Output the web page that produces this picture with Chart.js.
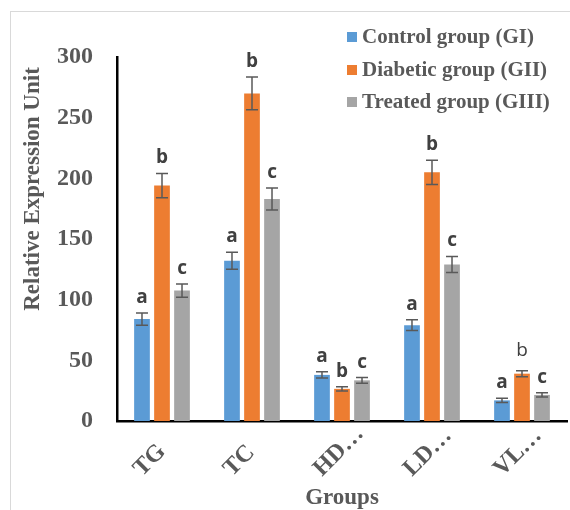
<!DOCTYPE html>
<html>
<head>
    <script src="https://cdn.jsdelivr.net/npm/chart.js@4.4.0/dist/chart.umd.min.js"></script>
    <style>
        body {
            margin: 0;
            background-color: #fff;
        }

        #wrap {
            position: relative;
            width: 570px;
            height: 510px;
        }
    </style>
</head>
<body>
    <div id="wrap"><canvas id="myChart"></canvas></div>
    <script>
        const categories = ['TG', 'TC', 'HD…', 'LD…', 'VL…'];
        const seriesNames = ['Control group (GI)', 'Diabetic group (GII)', 'Treated group (GIII)'];
        const controlValues = [84, 132, 38, 79, 17];
        const diabeticValues = [194, 270, 26.5, 205, 39];
        const treatedValues = [107.5, 183, 33.5, 129, 21.5];
        const controlErrors = [5, 7, 2.5, 4.5, 1.7];
        const diabeticErrors = [10, 13.5, 1.7, 10, 2.5];
        const treatedErrors = [5.5, 9, 2.3, 6.6, 1.8];
        const controlLetters = ['a', 'a', 'a', 'a', 'a'];
        const diabeticLetters = ['b', 'b', 'b', 'b', 'b'];
        const treatedLetters = ['c', 'c', 'c', 'c', 'c'];
        const yTicks = [0, 50, 100, 150, 200, 250, 300];
        const yTitle = 'Relative Expression Unit';
        const xTitle = 'Groups';

        const textGray = '#595959';
        const serif = '"Liberation Serif", "Times New Roman", serif';

        // error bars, letters, legend, axis titles, x labels and frame
        const extras = {
            id: 'extras',
            beforeDraw(chart) {
                const ctx = chart.ctx;
                ctx.save();
                ctx.fillStyle = '#fff';
                ctx.fillRect(0, 0, chart.width, chart.height);
                ctx.strokeStyle = '#d9d9d9';
                ctx.lineWidth = 1;
                ctx.strokeRect(10.5, 11.5, 700, 700);
                ctx.restore();
            },
            afterDatasetsDraw(chart) {
                const ctx = chart.ctx;
                const y = chart.scales.y;
                ctx.save();
                chart.data.datasets.forEach((ds, di) => {
                    const meta = chart.getDatasetMeta(di);
                    meta.data.forEach((bar, i) => {
                        const v = ds.data[i];
                        const e = ds.errors[i];
                        const top = y.getPixelForValue(v + e);
                        const bot = y.getPixelForValue(v - e);
                        ctx.strokeStyle = textGray;
                        ctx.lineWidth = 1.5;
                        ctx.beginPath();
                        ctx.moveTo(bar.x, top);
                        ctx.lineTo(bar.x, bot);
                        ctx.moveTo(bar.x - 6, top);
                        ctx.lineTo(bar.x + 6, top);
                        ctx.moveTo(bar.x - 6, bot);
                        ctx.lineTo(bar.x + 6, bot);
                        ctx.stroke();

                        // VL diabetic letter is not bold in the original
                        const plain = di === 1 && i === 4;
                        ctx.fillStyle = '#404040';
                        ctx.font = (plain ? '' : 'bold ') + '19px "Open Sans", "Liberation Sans", sans-serif';
                        ctx.textAlign = 'center';
                        ctx.textBaseline = 'alphabetic';
                        ctx.fillText(ds.letters[i], bar.x, top - (plain ? 15 : 10));
                    });
                });
                ctx.restore();
            },
            afterDraw(chart) {
                const ctx = chart.ctx;
                const x = chart.scales.x;
                ctx.save();
                // legend
                const rows = [37, 70, 102];
                chart.data.datasets.forEach((ds, di) => {
                    ctx.fillStyle = ds.backgroundColor;
                    ctx.fillRect(347, rows[di] - 5, 10, 10);
                    ctx.fillStyle = textGray;
                    ctx.font = 'bold 21px ' + serif;
                    ctx.textAlign = 'left';
                    ctx.textBaseline = 'middle';
                    ctx.fillText(ds.label, 362, rows[di] + 1);
                });
                // x category labels, anchored at their start like Excel does
                ctx.font = 'bold 24px ' + serif;
                ctx.textAlign = 'left';
                ctx.textBaseline = 'alphabetic';
                x.ticks.forEach((t, i) => {
                    ctx.save();
                    ctx.translate(x.getPixelForTick(i) - 20, 477);
                    ctx.rotate(-Math.PI / 4);
                    ctx.fillText(x.getLabelForValue(t.value), 0, 0);
                    ctx.restore();
                });
                // axis titles
                ctx.font = 'bold 23px ' + serif;
                ctx.textAlign = 'center';
                ctx.textBaseline = 'middle';
                ctx.fillText(xTitle, (chart.chartArea.left + chart.chartArea.right) / 2, 498);
                ctx.translate(33, 189);
                ctx.rotate(-Math.PI / 2);
                ctx.fillText(yTitle, 0, 0);
                ctx.restore();
            }
        };

        const data = {
            labels: categories,
            datasets: [{
                label: seriesNames[0],
                data: controlValues,
                errors: controlErrors,
                letters: controlLetters,
                backgroundColor: '#5B9BD5'
            }, {
                label: seriesNames[1],
                data: diabeticValues,
                errors: diabeticErrors,
                letters: diabeticLetters,
                backgroundColor: '#ED7D31'
            }, {
                label: seriesNames[2],
                data: treatedValues,
                errors: treatedErrors,
                letters: treatedLetters,
                backgroundColor: '#A5A5A5'
            }]
        };

        const options = {
            responsive: true,
            maintainAspectRatio: false,
            animation: false,
            categoryPercentage: 0.667,
            barPercentage: 0.785,
            layout: {
                padding: { left: 0, top: 57, right: 3, bottom: 0 }
            },
            plugins: {
                legend: { display: false },
                tooltip: { enabled: false }
            },
            scales: {
                x: {
                    grid: { display: false, drawTicks: false },
                    border: { display: true, color: '#000', width: 2.5 },
                    ticks: { display: false, autoSkip: false },
                    afterFit(scale) { scale.height = 89; }
                },
                y: {
                    min: 0,
                    max: 300,
                    afterBuildTicks(scale) {
                        scale.ticks = yTicks.map(v => ({ value: v }));
                    },
                    grid: { display: false, drawTicks: false },
                    border: { display: true, color: '#000', width: 2.5 },
                    ticks: {
                        padding: 24,
                        color: textGray,
                        font: { family: serif, size: 24, weight: 'bold' }
                    },
                    afterFit(scale) { scale.width = 117; }
                }
            }
        };

        new Chart(document.getElementById('myChart').getContext('2d'), {
            type: 'bar',
            data: data,
            options: options,
            plugins: [extras]
        });
    </script>
</body>
</html>
